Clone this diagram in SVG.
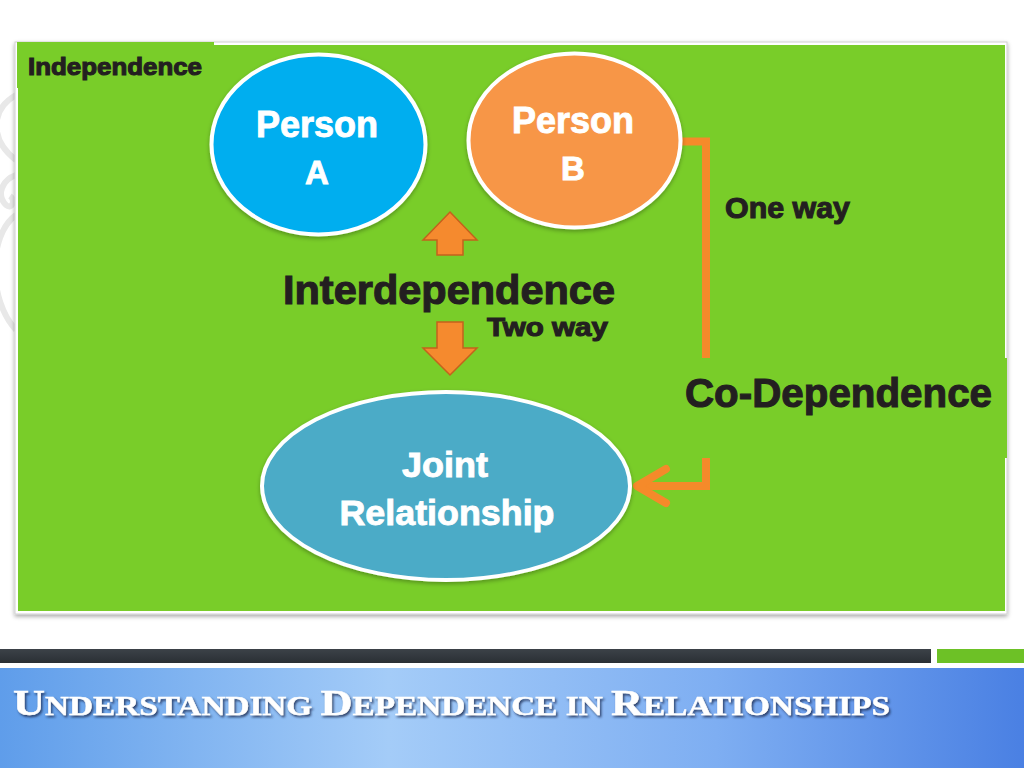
<svg xmlns="http://www.w3.org/2000/svg" width="1024" height="768" viewBox="0 0 1024 768">
<defs>
<style>
.dark{font-family:"Liberation Sans",Arial,sans-serif;font-weight:bold;fill:#231F20;stroke:#231F20;stroke-width:1.1}
.wt{font-family:"Liberation Sans",Arial,sans-serif;font-weight:bold;fill:#FFFFFF;stroke:#FFFFFF;stroke-width:0.9;text-anchor:middle}
.node{stroke:#FFFFFF;stroke-width:4}
.conn{fill:none;stroke:#F58A2A;stroke-width:8}
.blk{fill:#F58A2E;stroke:#C4621C;stroke-width:1.5}
.title{font-family:"Liberation Serif","Times New Roman",serif;font-weight:bold;fill:#FFFFFF;stroke:#FFFFFF;stroke-width:0.4}
.big{font-size:36px}
.sm{font-size:27px}
</style>
<linearGradient id="blueBand" x1="0" y1="0" x2="1" y2="0">
<stop offset="0" stop-color="#5F9DEA"/>
<stop offset="0.38" stop-color="#A4CCF8"/>
<stop offset="0.7" stop-color="#7EAEF2"/>
<stop offset="1" stop-color="#4A80E3"/>
</linearGradient>
<linearGradient id="darkBar" x1="0" y1="0" x2="0" y2="1">
<stop offset="0" stop-color="#3C4248"/>
<stop offset="1" stop-color="#2A2F34"/>
</linearGradient>
<filter id="tshadow" x="-5%" y="-30%" width="110%" height="160%">
<feDropShadow dx="1.5" dy="2" stdDeviation="1.2" flood-color="#1B2F55" flood-opacity="0.85"/>
</filter>
<filter id="eshadow" x="-10%" y="-10%" width="120%" height="125%">
<feDropShadow dx="0" dy="2" stdDeviation="2" flood-color="#000000" flood-opacity="0.3"/>
</filter>
<filter id="fshadow" x="-2%" y="-2%" width="104%" height="106%">
<feDropShadow dx="0" dy="2" stdDeviation="2" flood-color="#000000" flood-opacity="0.35"/>
</filter>
</defs>

<rect x="0" y="0" width="1024" height="768" fill="#FFFFFF"/>

<!-- faint left ornament -->
<g fill="none" stroke="#E8E8E8" stroke-width="6">
<path d="M16 95 C-10 110 -10 140 16 160"/>
<path d="M16 175 C2 180 -4 195 6 205 C12 210 16 200 10 196"/>
<path d="M16 215 C-12 235 -12 300 16 330"/>
</g>

<!-- frame -->
<rect x="15" y="42" width="992" height="572" fill="#FFFFFF" stroke="#D0D0D0" stroke-width="1" filter="url(#fshadow)"/>
<rect x="18" y="45" width="987" height="566" fill="#79CD29"/>
<rect x="17" y="42" width="197" height="46" fill="#79CD29"/>
<rect x="700" y="358" width="307" height="100" fill="#79CD29"/>

<!-- connectors -->
<g id="connectors">
<polyline class="conn" points="682,141.5 706,141.5 706,358"/>
<polyline class="conn" points="706,458 706,486 636,486"/>
<polyline class="conn" points="666,469 637,486 666,503" stroke-linecap="round" stroke-linejoin="round"/>
<polygon class="blk" points="450,212 477,240 463,240 463,255 437,255 437,240 423,240"/>
<polygon class="blk" points="437,322 463,322 463,348 477,348 450,375 423,348 437,348"/>
</g>

<g id="independence">
<text class="dark" x="28" y="75" font-size="24" textLength="174" lengthAdjust="spacingAndGlyphs">Independence</text>
</g>

<g id="personA">
<ellipse class="node" cx="318.5" cy="144.5" rx="107" ry="90" fill="#00AEEF" filter="url(#eshadow)"/>
<text class="wt" x="317" y="137" font-size="36" textLength="122" lengthAdjust="spacingAndGlyphs">Person</text>
<text class="wt" x="317" y="184" font-size="33">A</text>
</g>

<g id="personB">
<ellipse class="node" cx="574.5" cy="140.5" rx="106" ry="87" fill="#F79646" filter="url(#eshadow)"/>
<text class="wt" x="573" y="133" font-size="36" textLength="122" lengthAdjust="spacingAndGlyphs">Person</text>
<text class="wt" x="573" y="180" font-size="33">B</text>
</g>

<g id="interdependence">
<text class="dark" x="283" y="304" font-size="40" textLength="332" lengthAdjust="spacingAndGlyphs">Interdependence</text>
<text class="dark" x="487" y="336" font-size="25" textLength="121" lengthAdjust="spacingAndGlyphs">Two way</text>
</g>

<g id="oneway">
<text class="dark" x="725" y="218" font-size="30" textLength="125" lengthAdjust="spacingAndGlyphs">One way</text>
</g>

<g id="codependence">
<text class="dark" x="685" y="407" font-size="41" textLength="307" lengthAdjust="spacingAndGlyphs">Co-Dependence</text>
</g>

<g id="joint">
<ellipse class="node" cx="446" cy="486" rx="184" ry="94" fill="#4BABC7" filter="url(#eshadow)"/>
<text class="wt" x="445" y="477" font-size="35" textLength="86" lengthAdjust="spacingAndGlyphs">Joint</text>
<text class="wt" x="447" y="525" font-size="35" textLength="215" lengthAdjust="spacingAndGlyphs">Relationship</text>
</g>

<!-- bottom band -->
<rect x="0" y="649" width="931" height="14" fill="url(#darkBar)"/>
<rect x="937" y="649" width="87" height="14" fill="#6DC126"/>
<rect x="0" y="668" width="1024" height="100" fill="url(#blueBand)"/>

<g id="title">
<text class="title" x="13" y="715" filter="url(#tshadow)" textLength="877" lengthAdjust="spacingAndGlyphs"><tspan class="big">U</tspan><tspan class="sm">NDERSTANDING </tspan><tspan class="big">D</tspan><tspan class="sm">EPENDENCE IN </tspan><tspan class="big">R</tspan><tspan class="sm">ELATIONSHIPS</tspan></text>
</g>
</svg>
